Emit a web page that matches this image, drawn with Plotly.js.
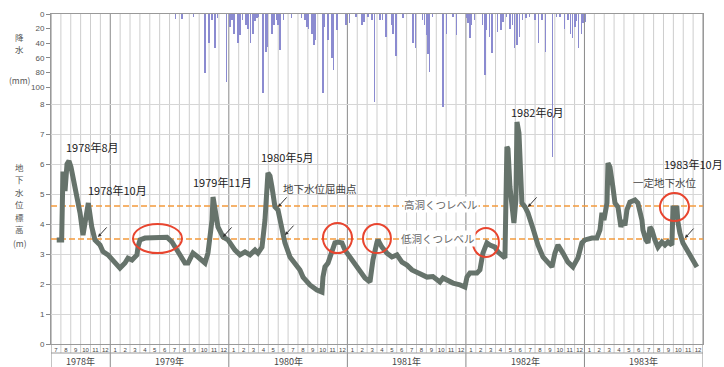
<!DOCTYPE html>
<html><head><meta charset="utf-8">
<script src="https://cdn.plot.ly/plotly-3.0.1.min.js"></script>
<style>html,body{margin:0;padding:0;background:#fff}#chart{width:724px;height:367px}</style>
</head><body><div id="chart"></div>
<script>
// ---- data ----
const startMonth = 7;      // July 1978
const nMonths = 66;        // Jul 1978 .. Dec 1983
const yearLabels = ['1978年','1979年','1980年','1981年','1982年','1983年'];
const highCaveLevel = 4.6;
const lowCaveLevel = 3.5;

// groundwater level (m), x = months since 1978-07-01
const gwX = [0.58,1.08,1.21,1.42,1.62,1.82,2.02,2.43,2.94,3.24,3.61,3.78,4.12,4.45,4.96,5.26,5.77,6.28,6.68,6.98,
  7.49,7.79,8.20,8.70,8.81,9.01,9.51,10.32,11.03,11.74,12.25,12.75,13.56,13.87,14.37,14.88,15.59,15.89,16.09,16.30,
  16.40,16.60,16.90,17.41,17.91,18.62,19.13,19.64,20.14,20.65,20.95,21.36,21.66,21.96,22.17,22.37,22.67,22.98,23.38,23.68,
  24.19,24.70,25.20,25.51,26.21,26.92,27.43,27.53,27.73,28.04,28.44,28.74,29.05,29.45,29.76,30.26,30.77,31.28,31.78,32.29,
  32.59,33.00,33.10,33.50,34.01,34.51,35.02,35.53,36.03,36.54,37.15,37.35,38.06,38.66,39.37,39.68,40.18,40.69,41.40,41.90,
  42.11,42.41,43.12,43.42,43.72,44.13,44.43,44.94,45.24,45.65,45.95,46.15,46.26,46.46,46.66,46.86,47.06,47.17,47.37,47.57,
  47.67,47.98,48.28,48.79,49.29,49.80,50.30,50.71,51.01,51.32,51.82,52.33,52.83,53.34,53.74,54.05,54.76,55.26,55.57,55.77,
  55.97,56.28,56.38,56.58,56.88,57.09,57.39,57.69,57.89,58.10,58.30,58.60,59.11,59.41,59.82,59.92,60.22,60.43,60.63,60.83,
  61.13,61.44,61.84,62.15,62.45,62.85,62.96,63.36,63.46,63.66,63.97,64.47,64.88,65.38];
const gwY = [3.47,3.47,5.75,5.1,6.0,6.1,5.9,5.23,4.37,3.63,4.58,4.7,3.91,3.47,3.3,3.08,2.97,2.8,2.63,2.53,
  2.7,2.86,2.8,2.97,3.24,3.47,3.53,3.53,3.57,3.56,3.4,3.13,2.7,2.7,3.03,2.9,2.7,3.03,3.47,4.13,
  4.9,4.57,3.9,3.57,3.47,3.13,2.97,3.07,2.97,3.13,3.03,3.23,4.13,5.7,5.6,5.23,4.57,4.47,3.7,3.37,
  2.9,2.7,2.47,2.23,1.97,1.8,1.73,2.23,2.57,2.7,3.03,3.37,3.4,3.37,3.13,2.9,2.7,2.4,2.2,2.07,
  2.8,3.4,3.47,3.23,3.03,2.9,2.97,2.73,2.63,2.47,2.37,2.37,2.23,2.25,2.07,2.2,2.1,2.03,1.97,1.9,
  2.23,2.37,2.37,2.47,3.03,3.37,3.3,3.23,3.07,2.97,2.87,6.57,6.5,5.23,4.47,4.03,4.8,7.4,7.03,5.37,
  4.7,4.57,4.37,3.85,3.3,2.9,2.7,2.57,3.03,3.3,3.03,2.73,2.57,2.87,3.37,3.47,3.53,3.53,3.8,4.37,
  4.13,4.7,6.03,5.9,5.23,4.7,4.57,3.9,4.13,3.95,4.47,4.73,4.8,4.7,4.13,3.8,3.47,3.37,3.9,3.8,
  3.47,3.23,3.4,3.3,3.4,3.3,4.53,4.53,4.07,3.7,3.37,3.07,2.9,2.57];

// precipitation (mm)
const rainX = [12.62,13.26,14.47,15.59,15.99,16.30,16.60,16.90,17.81,18.12,18.32,18.52,18.93,19.13,19.43,19.74,19.94,20.24,20.45,20.65,
  20.85,21.05,21.46,21.76,21.96,22.37,22.57,22.87,22.98,23.18,23.58,24.39,25.40,25.71,25.91,26.11,26.42,26.62,26.82,27.53,
  27.73,28.04,28.44,28.64,28.95,29.86,30.26,30.87,31.48,31.68,32.09,32.49,32.79,33.30,33.60,33.91,34.51,34.62,34.92,35.63,
  36.64,36.94,37.65,37.85,38.06,38.16,38.36,38.66,39.68,40.08,40.69,41.09,42.11,42.21,42.41,42.61,42.91,43.72,43.93,44.13,
  44.43,44.64,45.24,45.55,45.75,46.15,46.46,46.76,46.96,47.17,47.47,47.77,48.08,48.48,48.99,49.39,49.70,50.10,50.81,51.21,
  51.52,52.02,52.33,52.63,52.83,53.04,53.24,53.44,53.74,53.85,54.15];
const rainY = [7,7,4,81,40,8,47,6,93,18,8,27,40,29,8,15,20,40,27,10,
  6,4,108,52,45,27,15,8,15,49,8,6,6,8,18,20,27,42,36,108,
  18,36,60,77,22,15,13,4,15,11,4,8,120,8,8,31,15,27,58,6,
  40,47,8,15,29,55,79,4,127,27,4,29,6,13,33,15,8,15,84,22,
  31,54,25,22,11,4,20,15,47,43,31,8,6,4,8,40,8,52,196,4,
  4,20,8,27,33,18,10,47,27,13,11];

// ---- derived helpers ----
const monthCenters = [], monthText = [];
for (let i = 0; i < nMonths; i++) { monthCenters.push(i + 0.5); monthText.push(String((startMonth - 1 + i) % 12 + 1)); }
const yearBounds = [0];
for (let i = 1; i < nMonths; i++) if ((startMonth - 1 + i) % 12 === 0) yearBounds.push(i);
yearBounds.push(nMonths);

const plotH = 330;
const monthRowBottom = -9 / plotH;
const yearRowBottom = -24 / plotH;

const shapes = [];
for (let i = 1; i < nMonths; i++) {
  if (yearBounds.includes(i)) continue;
  shapes.push({type:'line', xref:'x', yref:'paper', x0:i, x1:i, y0:monthRowBottom, y1:1, line:{color:'#cdcdcd', width:1}, layer:'below'});
}
yearBounds.forEach(b => shapes.push({type:'line', xref:'x', yref:'paper', x0:b, x1:b, y0:yearRowBottom, y1:1, line:{color:'#8a8a8a', width:1}, layer:'below'}));
shapes.push({type:'line', xref:'paper', yref:'paper', x0:0, x1:1, y0:monthRowBottom, y1:monthRowBottom, line:{color:'#9a9a9a', width:1}});
[highCaveLevel, lowCaveLevel].forEach(v => shapes.push({type:'line', xref:'paper', yref:'y', x0:0, x1:1, y0:v, y1:v, line:{color:'#f39a3c', width:1.5, dash:'6px,3px'}, layer:'below'}));
// red circles
const circles = [[8.3,13.26,3.03,4.0],[27.53,30.47,3.03,4.03],[31.58,34.41,3.03,4.0],[42.71,45.34,2.9,3.87],[61.64,64.58,4.1,5.03]];
circles.forEach(c => shapes.push({type:'circle', xref:'x', yref:'y', x0:c[0], x1:c[1], y0:c[2], y1:c[3], line:{color:'#e8452f', width:2}}));

const jp = '"Noto Sans CJK JP", "Noto Sans", sans-serif';
const annotations = [];
function txt(t, x, y, opts) { annotations.push(Object.assign({text:t, x:x, y:y, xref:'x', yref:'y', showarrow:false, font:{family:jp, size:11, color:'#222'}}, opts||{})); }
txt('1978年8月', 4.15, 6.57);
txt('1978年10月', 6.78, 5.13);
txt('1979年11月', 17.31, 5.4);
txt('1980年5月', 23.99, 6.23);
txt('地下水位屈曲点', 27.23, 5.2, {font:{family:jp, size:10.5, color:'#444'}});
txt('高洞くつレベル', 39.47, 4.65, {font:{family:jp, size:10.5, color:'#666'}, bgcolor:'#fff', borderpad:0});
txt('低洞くつレベル', 39.17, 3.52, {font:{family:jp, size:10.5, color:'#666'}, bgcolor:'#fff', borderpad:0});
txt('1982年6月', 49.29, 7.73);
txt('1983年10月', 65.08, 6.0);
txt('一定地下水位', 62.15, 5.37, {font:{family:jp, size:10.5, color:'#444'}});
// arrows
[[4.76,3.57],[17.41,3.57],[22.98,4.57],[23.68,3.63],[48.28,4.57],[64.17,3.53]].forEach(a => annotations.push({
  x:a[0], y:a[1], xref:'x', yref:'y', text:'', showarrow:true, ax:10, ay:-11, arrowhead:2, arrowsize:0.7, arrowwidth:1, arrowcolor:'#333'}));
// year labels
yearLabels.forEach((t, i) => annotations.push({text:t, xref:'x', yref:'paper', x:(yearBounds[i] + yearBounds[i+1]) / 2, y:-17/plotH, showarrow:false, xanchor:'center', yanchor:'middle', font:{family:jp, size:9, color:'#444'}}));
// axis titles (stacked vertically, one character per line)
function side(t, py) { annotations.push({text:t, xref:'paper', yref:'paper', x:-31/652, y:(344 - py)/plotH, xanchor:'center', yanchor:'middle', borderpad:0, showarrow:false, font:{family:jp, size:8.5, color:'#555'}}); }
const rainTitle = ['降','水'], gwTitle = ['地','下','水','位','標','高'];
rainTitle.forEach((c, i) => side(c, 37 + i * 12.4));
side('(mm)', 80);
gwTitle.forEach((c, i) => side(c, 167 + i * 12.4));
side('(m)', 243);

const traces = [
  {type:'bar', x:rainX, y:rainY, yaxis:'y2', width:0.11, marker:{color:'#8b8bd0', line:{width:0}}, hoverinfo:'skip'},
  {type:'scatter', mode:'lines', x:gwX, y:gwY, line:{color:'#66736b', width:5}, hoverinfo:'skip'}
];

const layout = {
  width:724, height:367, margin:{l:51, r:21, t:14, b:23},
  paper_bgcolor:'#fff', plot_bgcolor:'#fff', showlegend:false,
  font:{family:'"Liberation Sans", Arial, sans-serif', size:8, color:'#555'},
  xaxis:{range:[0, nMonths], tickvals:monthCenters, ticktext:monthText, ticks:'', tickfont:{size:6, color:'#444'},
         showgrid:false, zeroline:false, showline:true, linecolor:'#999', mirror:true, fixedrange:true},
  yaxis:{range:[0, 11], tickvals:[0,1,2,3,4,5,6,7,8], ticks:'outside', ticklen:4, tickcolor:'#888',
         showgrid:true, gridcolor:'#d6d6d6', zeroline:false, showline:true, linecolor:'#999', mirror:true, fixedrange:true},
  yaxis2:{overlaying:'y', side:'left', range:[452, 0], tickvals:[0,20,40,60,80,100], ticks:'outside', ticklen:4, tickcolor:'#888',
          showgrid:false, zeroline:false, showline:false, fixedrange:true},
  shapes:shapes, annotations:annotations, bargap:0
};
Plotly.newPlot('chart', traces, layout, {staticPlot:true});
</script></body></html>
